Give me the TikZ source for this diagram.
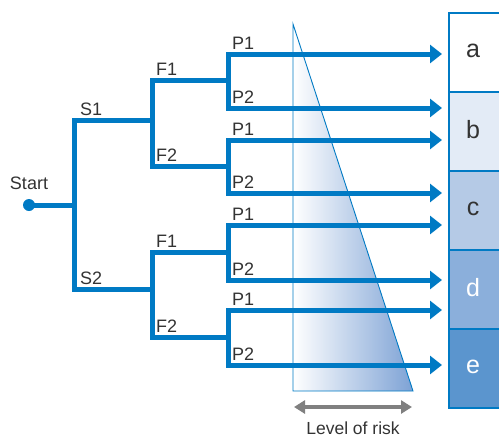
\documentclass[tikz,border=0pt]{standalone}
\usepackage{fontspec}
\setmainfont{Liberation Sans}
\usetikzlibrary{arrows.meta}
\definecolor{treeblue}{RGB}{0,122,196}
\definecolor{txtgray}{RGB}{51,51,51}
\definecolor{riskgray}{RGB}{128,128,128}
\definecolor{fillb}{RGB}{227,235,246}
\definecolor{fillc}{RGB}{181,202,230}
\definecolor{filld}{RGB}{139,175,219}
\definecolor{fille}{RGB}{91,149,206}
\definecolor{shadeend}{RGB}{125,162,213}
\begin{document}
\begin{tikzpicture}[x=1pt,y=-1pt,
  tree/.style={treeblue, line width=5pt},
  arr/.style={treeblue, line width=5pt, {Triangle[length=12pt,width=18pt]}-{Triangle[length=12pt,width=18pt]}},
  lbl/.style={font=\fontsize{18}{21}\selectfont, text=txtgray, inner sep=0pt, anchor=base west},
  outbox/.style={draw=treeblue, line width=1.6pt, minimum width=70pt, minimum height=79pt, inner sep=0pt, anchor=north west},
  boxlbl/.style={font=\fontsize{25}{29}\selectfont, inner sep=0pt}
]
\useasboundingbox (0,0) rectangle (499,437);

% risk triangle
\coordinate (tt) at (293,24);
\coordinate (tr) at (413,391);
\coordinate (tl) at (293,391);
\shade[left color=white, right color=shadeend] (tt) -- (tr) -- (tl) -- cycle;
\draw[treeblue, line width=0.9pt] (tt) -- (tr) -- (tl) -- cycle;

% outcome boxes
\node[outbox, fill=white] (ba) at (448,12) {};
\node[outbox, fill=fillb] (bb) at (448,91) {};
\node[outbox, fill=fillc] (bc) at (448,170) {};
\node[outbox, fill=filld] (bd) at (448,249) {};
\node[outbox, fill=fille] (be) at (448,328) {};
\node[boxlbl, text=txtgray] (la) at (473,51) {a};
\node[boxlbl, text=txtgray] (lb) at (473,130) {b};
\node[boxlbl, text=txtgray] (lc) at (473,209) {c};
\node[boxlbl, text=white] (ld) at (473,288) {d};
\node[boxlbl, text=white] (le) at (473,367) {e};

% tree coordinates
\coordinate (start) at (29,205);
\coordinate (s1c) at (74,120);
\coordinate (s2c) at (74,289);
\coordinate (fj1) at (152,120);
\coordinate (fj2) at (152,289);
\coordinate (f11) at (152,80);
\coordinate (f12) at (152,166);
\coordinate (f21) at (152,252);
\coordinate (f22) at (152,337);
\coordinate (pj11) at (228,80);
\coordinate (pj12) at (228,166);
\coordinate (pj21) at (228,252);
\coordinate (pj22) at (228,337);
\coordinate (p111) at (228,54);
\coordinate (p112) at (228,108);
\coordinate (p121) at (228,140);
\coordinate (p122) at (228,193);
\coordinate (p211) at (228,225);
\coordinate (p212) at (228,280);
\coordinate (p221) at (228,310);
\coordinate (p222) at (228,365);
\coordinate (t111) at (442,54);
\coordinate (t112) at (442,108);
\coordinate (t121) at (442,140);
\coordinate (t122) at (442,193);
\coordinate (t211) at (442,225);
\coordinate (t212) at (442,280);
\coordinate (t221) at (442,310);
\coordinate (t222) at (442,365);

% tree
\fill[treeblue] (start) circle (6pt);
\draw[tree] (start) -- (start -| s1c);
\draw[tree] (fj1) -- (s1c) -- (s2c) -- (fj2);
\draw[tree] (pj11) -- (f11) -- (f12) -- (pj12);
\draw[tree] (pj21) -- (f21) -- (f22) -- (pj22);
\draw[arr] (t111) -- (p111) -- (p112) -- (t112);
\draw[arr] (t121) -- (p121) -- (p122) -- (t122);
\draw[arr] (t211) -- (p211) -- (p212) -- (t212);
\draw[arr] (t221) -- (p221) -- (p222) -- (t222);

% labels
\node[lbl, anchor=base] (lstart) at (29,189) {Start};
\node[lbl] (ls1) at (80,115) {S1};
\node[lbl] (ls2) at (80,284) {S2};
\node[lbl] (lf11) at (156,75) {F1};
\node[lbl] (lf12) at (156,161) {F2};
\node[lbl] (lf21) at (156,247) {F1};
\node[lbl] (lf22) at (156,332) {F2};
\node[lbl] (lp111) at (232,49) {P1};
\node[lbl] (lp112) at (232,103) {P2};
\node[lbl] (lp121) at (232,135) {P1};
\node[lbl] (lp122) at (232,188) {P2};
\node[lbl] (lp211) at (232,220) {P1};
\node[lbl] (lp212) at (232,275) {P2};
\node[lbl] (lp221) at (232,305) {P1};
\node[lbl] (lp222) at (232,360) {P2};

% level of risk
\coordinate (r1) at (294,407);
\coordinate (r2) at (412,407);
\draw[riskgray, line width=4pt, {Triangle[length=11pt,width=13pt]}-{Triangle[length=11pt,width=13pt]}] (r1) -- (r2);
\node[lbl, anchor=base, font=\fontsize{17.5}{20}\selectfont] (lrisk) at (353,434) {Level of risk};
\end{tikzpicture}
\end{document}
